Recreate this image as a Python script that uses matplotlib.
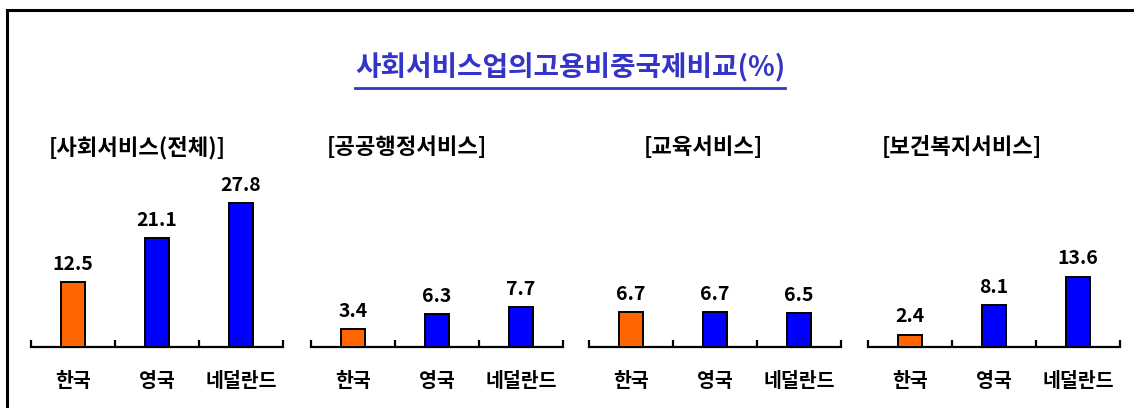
import matplotlib
matplotlib.use("Agg")
import matplotlib.pyplot as plt
from matplotlib.lines import Line2D
from matplotlib.patches import Rectangle

plt.rcParams["font.family"] = ["Noto Sans CJK KR", "DejaVu Sans"]
plt.rcParams["font.weight"] = "black"

# employment share of social services by country (%)
title = "사회서비스업의고용비중국제비교(%)"
countries = ["한국", "영국", "네덜란드"]
panel_titles = ["[사회서비스(전체)]", "[공공행정서비스]", "[교육서비스]", "[보건복지서비스]"]
total_services = [12.5, 21.1, 27.8]
public_admin = [3.4, 6.3, 7.7]
education = [6.7, 6.7, 6.5]
health_welfare = [2.4, 8.1, 13.6]
panels = [total_services, public_admin, education, health_welfare]

bar_colors = ["#FF6600", "#0000FF", "#0000FF"]
title_color = "#3434C8"
weight = "black"

W, H = 1134, 408
fig = plt.figure(figsize=(W / 100, H / 100), dpi=100)

# outer frame (open on the right/bottom edges of the canvas)
fig.patches.append(Rectangle((7 / W, -0.1), 1.2, (H - 10) / H + 0.1,
                             transform=fig.transFigure, fill=False,
                             edgecolor="black", linewidth=2.2))

axes_left = [31, 311, 589, 868]
title_centers = [137, 407, 703, 962]
ax_w, ax_h, base_y = 252, 155, 347

for left, tcx, vals, ptitle in zip(axes_left, title_centers, panels, panel_titles):
    ax = fig.add_axes([left / W, 1 - base_y / H, ax_w / W, ax_h / H])
    x = range(len(vals))
    ax.bar(x, vals, width=0.29, color=bar_colors, edgecolor="black", linewidth=1.4, zorder=3)
    for xi, v in zip(x, vals):
        ax.annotate(f"{v}", (xi, v), xytext=(0, 6), textcoords="offset points",
                    ha="center", va="bottom", fontsize=14, fontweight=weight)
    ax.set_xlim(-0.5, 2.5)
    ax.set_ylim(0, 30)
    for s in ["top", "left", "right"]:
        ax.spines[s].set_visible(False)
    ax.spines["bottom"].set_linewidth(1.6)
    ax.set_yticks([])
    ax.set_xticks([0, 1, 2], countries)
    ax.tick_params(axis="x", which="major", length=0, pad=18, labelsize=14)
    ax.set_xticks([-0.5, 0.5, 1.5, 2.5], minor=True)
    ax.tick_params(axis="x", which="minor", direction="in", length=5, width=1.6)
    for lab in ax.get_xticklabels():
        lab.set_fontweight(weight)
    fig.text(tcx / W, 1 - 148 / H, ptitle, ha="center", va="center",
             fontsize=16, fontweight=weight)

t = fig.text(570 / W, 1 - 68 / H, title, ha="center", va="center",
             fontsize=20, fontweight=weight, color=title_color)

# underline under the main title
fig.canvas.draw()
bb = t.get_window_extent().transformed(fig.transFigure.inverted())
uy = 1 - 88 / H
fig.add_artist(Line2D([bb.x0, bb.x1], [uy, uy], transform=fig.transFigure,
                      color=title_color, linewidth=2))

fig.savefig("out.png", dpi=100)
